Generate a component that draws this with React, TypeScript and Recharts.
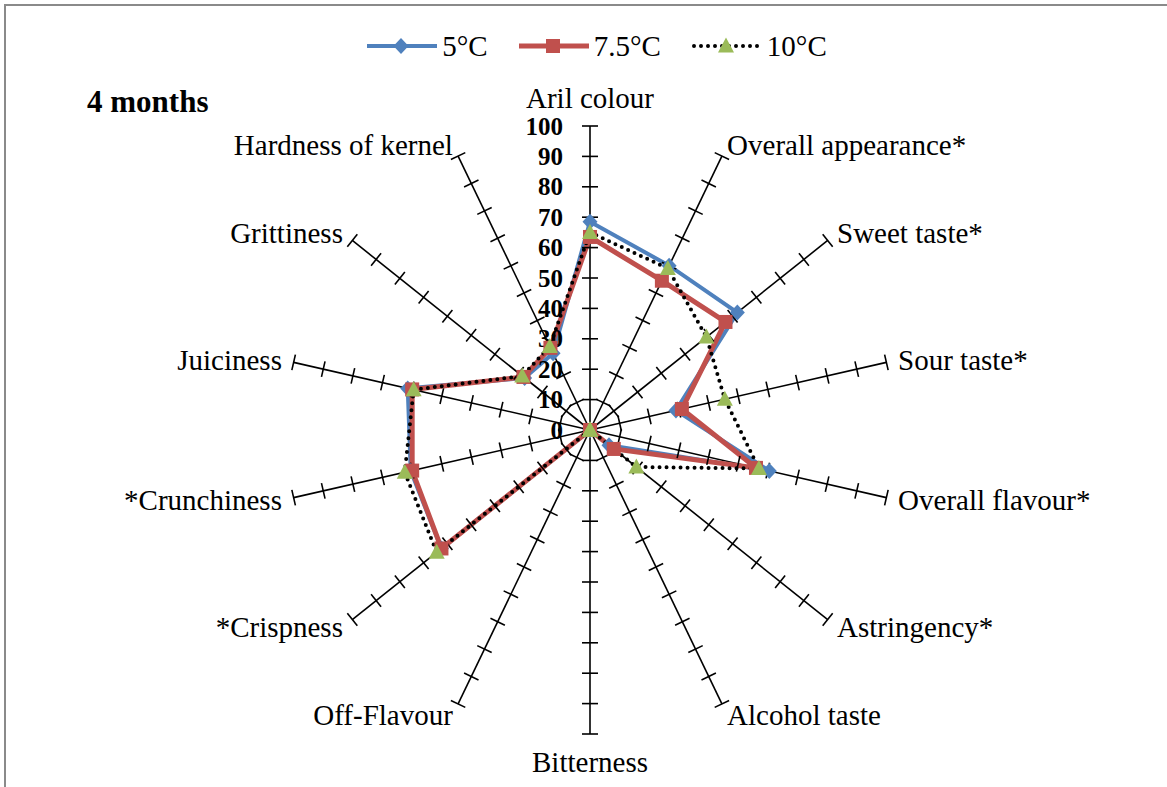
import { Legend, PolarAngleAxis, PolarGrid, PolarRadiusAxis, Radar, RadarChart } from "recharts";

const attributes = [
  "Aril colour",
  "Overall appearance*",
  "Sweet taste*",
  "Sour taste*",
  "Overall flavour*",
  "Astringency*",
  "Alcohol taste",
  "Bitterness",
  "Off-Flavour",
  "*Crispness",
  "*Crunchiness",
  "Juiciness",
  "Grittiness",
  "Hardness of kernel",
];
const temp5 = [68.5, 60, 62, 29, 60.5, 8, 0, 0, 0, 62.5, 60.5, 61.5, 27.5, 28];
const temp75 = [63.5, 54.5, 57, 31, 56, 10, 0, 0, 0, 62.5, 60, 60, 28, 30];
const temp10 = [65, 59, 49, 45.5, 57, 19.5, 0, 0, 0, 64.5, 62.5, 59.5, 28.5, 30.5];
const radiusTicks = [0, 10, 20, 30, 40, 50, 60, 70, 80, 90, 100];

const data = attributes.map((name, i) => ({ name, t5: temp5[i], t75: temp75[i], t10: temp10[i] }));

const CX = 590;
const CY = 430;
const R = 304;
const SERIF = "'Liberation Serif', 'Times New Roman', serif";
const BLUE = "#4F81BD";
const RED = "#C0504D";
const GREEN = "#9BBB59";

// tick marks across every spoke at the radius of this tick, plus the bold value label
function RadiusTick(props: any) {
  const { x, y, payload } = props;
  const cx = props.cx ?? CX;
  const cy = props.cy ?? CY;
  const r = Math.hypot(x - cx, y - cy);
  const n = attributes.length;
  return (
    <g>
      {r > 0.5 &&
        attributes.map((_, i) => {
          const a = ((90 - (i * 360) / n) * Math.PI) / 180;
          const px = cx + r * Math.cos(a);
          const py = cy - r * Math.sin(a);
          const ux = Math.sin(a);
          const uy = Math.cos(a);
          return (
            <line key={i} x1={px - 8 * ux} y1={py - 8 * uy} x2={px + 8 * ux} y2={py + 8 * uy} stroke="#000" strokeWidth={1.6} />
          );
        })}
      <text x={cx - 27} y={y} textAnchor="end" dominantBaseline="central" fontFamily={SERIF} fontWeight="bold" fontSize={25} fill="#000">
        {payload.value}
      </text>
    </g>
  );
}

function AngleTick(props: any) {
  const { x, y, payload, textAnchor } = props;
  const cy = props.cy ?? CY;
  let dy = 0;
  if (textAnchor === "middle") dy = y < cy ? -16 : 16;
  return (
    <text x={x} y={y + dy} textAnchor={textAnchor} dominantBaseline="central" fontFamily={SERIF} fontSize={29} fill="#000">
      {payload.value}
    </text>
  );
}

const diamond = (p: any) => (
  <path key={p.index} d={`M${p.cx},${p.cy - 8}L${p.cx + 7.5},${p.cy}L${p.cx},${p.cy + 8}L${p.cx - 7.5},${p.cy}Z`} fill={BLUE} />
);
const square = (p: any) => <rect key={p.index} x={p.cx - 7} y={p.cy - 7} width={14} height={14} fill={RED} />;
const triangle = (p: any) => (
  <path key={p.index} d={`M${p.cx},${p.cy - 8.5}L${p.cx + 8},${p.cy + 6.5}L${p.cx - 8},${p.cy + 6.5}Z`} fill={GREEN} />
);

function LegendContent() {
  const item = (label: string, line: React.ReactNode, marker: React.ReactNode) => (
    <div style={{ display: "flex", alignItems: "center", marginRight: 29 }}>
      <svg width={74} height={20}>
        {line}
        {marker}
      </svg>
      <span style={{ fontFamily: SERIF, fontSize: 29, marginLeft: 3, lineHeight: "20px" }}>{label}</span>
    </div>
  );
  return (
    <div style={{ display: "flex", justifyContent: "center", width: 1167, paddingLeft: 54, boxSizing: "border-box" }}>
      {item("5°C", <line x1={2} y1={10} x2={72} y2={10} stroke={BLUE} strokeWidth={4} />, diamond({ cx: 36, cy: 10 }))}
      {item("7.5°C", <line x1={2} y1={10} x2={72} y2={10} stroke={RED} strokeWidth={5} />, square({ cx: 36, cy: 10 }))}
      {item(
        "10°C",
        <line x1={4} y1={10} x2={72} y2={10} stroke="#000" strokeWidth={4} strokeDasharray="0 7" strokeLinecap="round" />,
        triangle({ cx: 36, cy: 10 })
      )}
    </div>
  );
}

export default function App() {
  return (
    <div style={{ position: "absolute", left: 0, top: 0, width: 1167, height: 787, overflow: "hidden", background: "#fff" }}>
      <div style={{ position: "absolute", left: 4, top: 4, width: 1200, height: 820, border: "2px solid #8a8a8a" }} />
      <div style={{ position: "absolute", left: 87, top: 84, fontFamily: SERIF, fontWeight: "bold", fontSize: 31, color: "#000" }}>4 months</div>
      <div style={{ position: "absolute", left: 0, top: 0 }}>
        <RadarChart width={1167} height={787} data={data} cx={CX} cy={CY} outerRadius={R} startAngle={90} endAngle={-270} margin={{ top: 0, right: 0, bottom: 0, left: 0 }}>
          <PolarGrid gridType="polygon" polarRadius={[0]} stroke="#000" strokeWidth={1.6} />
          <PolarAngleAxis dataKey="name" tick={AngleTick} tickLine={false} axisLine={false} tickSize={12} />
          <PolarRadiusAxis angle={90} domain={[0, 100]} ticks={radiusTicks} tickCount={11} axisLine={false} tick={RadiusTick} />
          <Legend verticalAlign="top" content={LegendContent} wrapperStyle={{ position: "absolute", top: 36, left: 0, width: 1167 }} />
          <Radar name="5°C" dataKey="t5" stroke={BLUE} strokeWidth={4} fill="none" fillOpacity={0} dot={diamond} isAnimationActive={false} />
          <Radar name="7.5°C" dataKey="t75" stroke={RED} strokeWidth={5} fill="none" fillOpacity={0} dot={square} isAnimationActive={false} />
          <Radar
            name="10°C"
            dataKey="t10"
            stroke="#000"
            strokeWidth={4}
            strokeDasharray="0 7"
            strokeLinecap="round"
            fill="none"
            fillOpacity={0}
            dot={triangle}
            isAnimationActive={false}
          />
        </RadarChart>
      </div>
    </div>
  );
}
